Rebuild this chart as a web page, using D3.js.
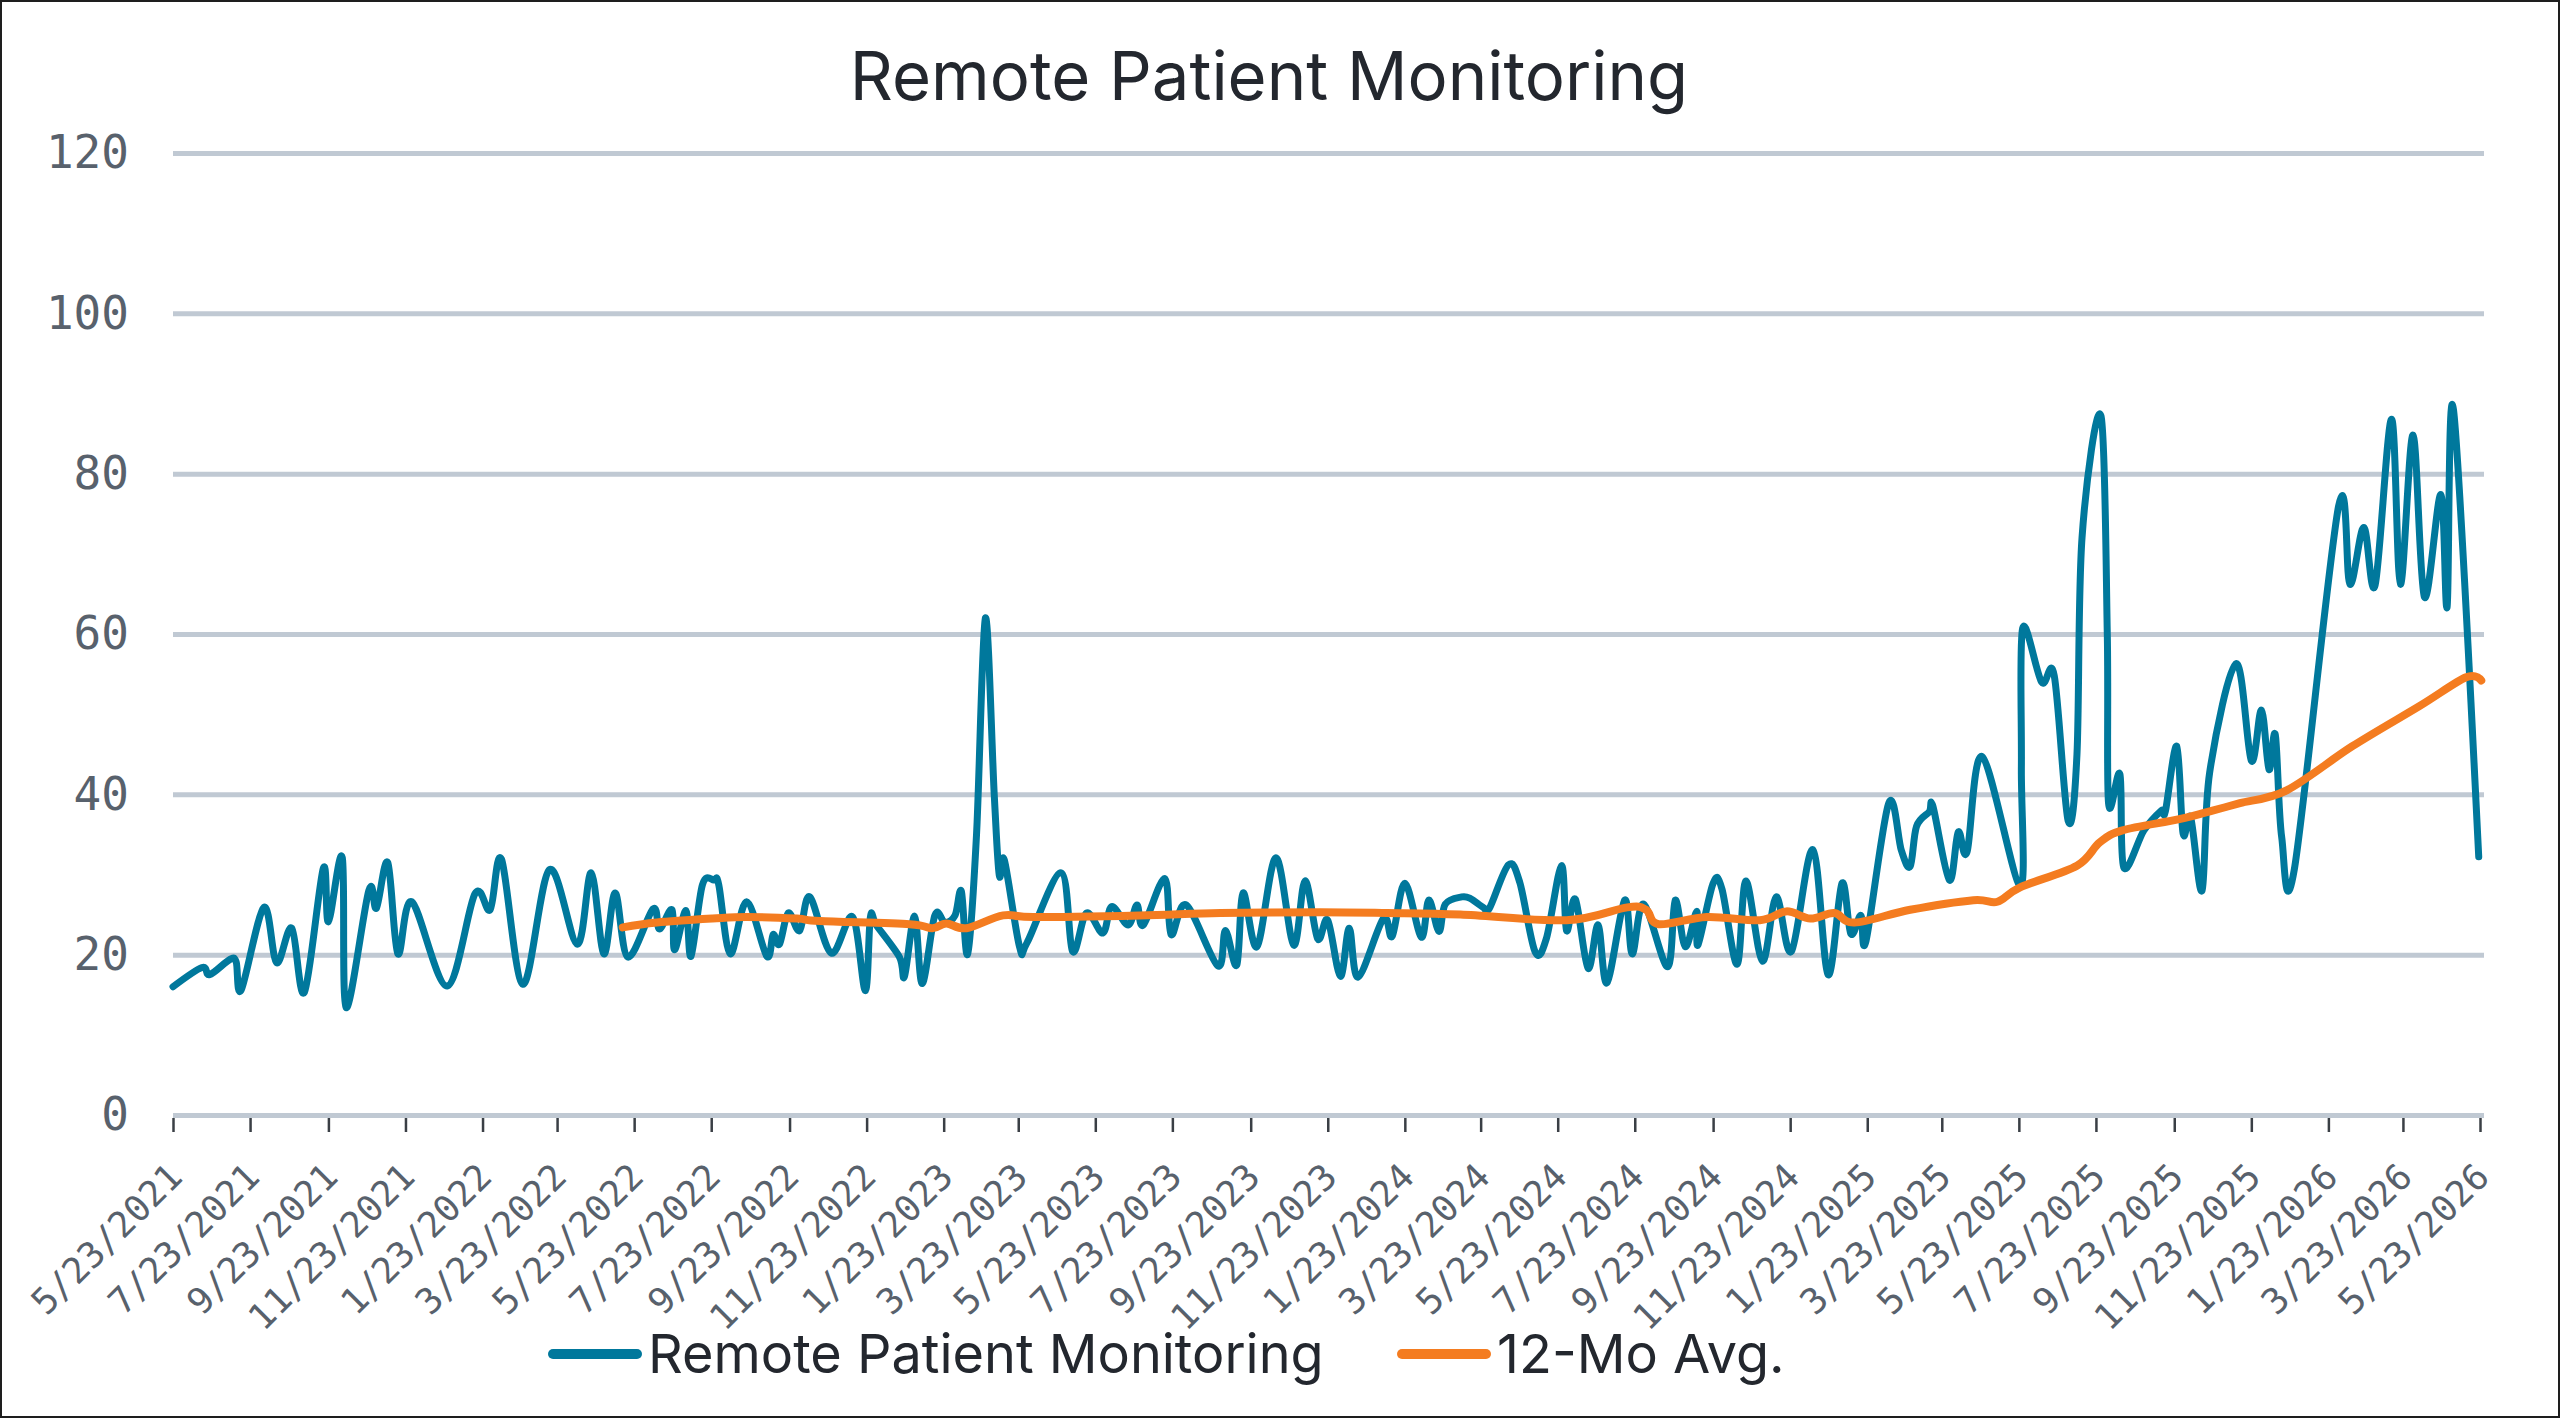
<!DOCTYPE html>
<html><head><meta charset="utf-8">
<script src="https://cdn.jsdelivr.net/npm/d3@7"></script>
<style>html,body{margin:0;padding:0;background:#fff;} svg{display:block;}</style>
</head><body>
<svg id="chart" width="2560" height="1418"></svg>
<script>
const chartTitle = "Remote Patient Monitoring";
const seriesNames = ["Remote Patient Monitoring", "12-Mo Avg."];
const yTicks = [0, 20, 40, 60, 80, 100, 120];
const xTickLabels = ["5/23/2021","7/23/2021","9/23/2021","11/23/2021","1/23/2022","3/23/2022","5/23/2022","7/23/2022","9/23/2022","11/23/2022","1/23/2023","3/23/2023","5/23/2023","7/23/2023","9/23/2023","11/23/2023","1/23/2024","3/23/2024","5/23/2024","7/23/2024","9/23/2024","11/23/2024","1/23/2025","3/23/2025","5/23/2025","7/23/2025","9/23/2025","11/23/2025","1/23/2026","3/23/2026","5/23/2026"];

const rpmDates = ["2021-05-23","2021-06-15","2021-06-21","2021-07-07","2021-07-12","2021-07-16","2021-08-03","2021-08-13","2021-08-25","2021-09-04","2021-09-19","2021-09-23","2021-10-04","2021-10-07","2021-10-25","2021-10-31","2021-11-09","2021-11-17","2021-11-28","2021-12-26",
"2022-01-17","2022-01-29","2022-02-07","2022-02-24","2022-03-17","2022-04-08","2022-04-19","2022-04-29","2022-05-08","2022-05-18","2022-06-07","2022-06-12","2022-06-22","2022-06-24","2022-07-03","2022-07-07","2022-07-16","2022-07-25","2022-07-29","2022-08-07","2022-08-20","2022-09-05","2022-09-10","2022-09-15","2022-09-22","2022-10-01","2022-10-09","2022-10-26","2022-11-12","2022-11-22","2022-11-26","2022-12-01","2022-12-19","2022-12-23","2022-12-31",
"2023-01-06","2023-01-16","2023-01-24","2023-02-01","2023-02-06","2023-02-11","2023-02-18","2023-02-25","2023-03-04","2023-03-08","2023-03-12","2023-03-24","2023-03-30","2023-04-26","2023-05-05","2023-05-16","2023-05-29","2023-06-05","2023-06-18","2023-06-25","2023-06-30","2023-07-17","2023-07-22","2023-08-03","2023-08-28","2023-09-03","2023-09-12","2023-09-17","2023-09-28","2023-10-13","2023-10-27","2023-11-05","2023-11-15","2023-11-23","2023-12-03","2023-12-10","2023-12-17",
"2024-01-06","2024-01-13","2024-01-23","2024-02-05","2024-02-11","2024-02-19","2024-02-24","2024-03-08","2024-03-15","2024-03-25","2024-03-30","2024-04-14","2024-04-23","2024-05-05","2024-05-14","2024-05-26","2024-05-30","2024-06-06","2024-06-16","2024-06-24","2024-07-01","2024-07-15","2024-07-21","2024-07-30","2024-08-18","2024-08-24","2024-09-01","2024-09-10","2024-09-11","2024-09-23","2024-09-30","2024-10-12","2024-10-19","2024-11-01","2024-11-12","2024-11-24","2024-12-11","2024-12-23",
"2025-01-03","2025-01-10","2025-01-18","2025-01-22","2025-02-09","2025-02-19","2025-02-26","2025-03-03","2025-03-13","2025-03-16","2025-03-29","2025-04-05","2025-04-12","2025-04-24","2025-05-24","2025-05-25","2025-05-26","2025-06-10","2025-06-20","2025-07-01","2025-07-08","2025-07-12","2025-07-27","2025-08-01","2025-08-02","2025-08-11","2025-08-14","2025-08-30","2025-09-13","2025-09-16","2025-09-25","2025-09-30","2025-10-06","2025-10-15","2025-10-21","2025-11-11","2025-11-23","2025-12-01","2025-12-07","2025-12-12","2025-12-17","2025-12-27",
"2026-01-31","2026-02-09","2026-02-20","2026-03-01","2026-03-14","2026-03-21","2026-03-31","2026-04-09","2026-04-22","2026-04-27","2026-05-02","2026-05-22"];
const rpmValues = [16.0,18.4,17.5,19.4,19.1,15.6,25.9,19.0,23.3,15.3,30.8,24.1,32.1,13.4,28.0,25.8,31.5,20.1,26.6,16.1,
27.6,25.6,31.9,16.3,30.6,21.3,30.2,20.1,27.7,19.7,25.7,23.2,25.6,20.6,25.5,19.8,28.7,29.3,28.7,20.1,26.6,19.8,22.5,21.3,25.2,23.0,27.2,20.2,24.7,15.5,24.7,23.6,19.7,17.3,24.8,
16.4,24.9,24.0,24.9,27.9,20.1,35.0,62.0,40.0,29.9,31.8,21.0,21.5,30.2,20.4,25.2,22.7,26.0,23.7,26.2,23.7,29.5,22.5,26.2,18.6,23.0,18.7,27.7,21.0,32.1,21.2,29.2,22.0,24.3,17.3,23.3,17.2,
24.5,22.3,28.9,22.2,26.8,22.9,26.3,27.2,27.0,25.9,25.8,31.2,29.0,20.4,22.0,31.1,23.0,26.9,18.3,23.7,16.5,26.8,20.1,26.3,18.5,26.8,21.0,25.4,21.2,28.9,28.2,18.8,29.2,19.2,27.2,20.4,33.1,17.5,
28.9,22.6,24.9,21.7,38.9,33.0,31.0,36.0,37.8,38.5,29.3,35.3,32.8,44.7,28.6,43.5,60.7,54.0,54.8,36.7,45.0,72.0,87.2,60.0,38.9,42.5,30.9,35.5,38.0,37.9,46.0,35.1,37.1,28.0,42.7,56.3,44.2,50.5,43.1,47.4,34.7,30.6,
75.9,66.2,73.3,66.1,86.8,66.2,84.8,64.6,77.4,63.4,88.0,32.2];

const avgDates = ["2022-05-14","2022-06-10","2022-07-24","2022-08-20","2022-09-29","2022-10-17","2022-12-27","2023-01-14","2023-01-25","2023-02-10","2023-03-11","2023-04-04","2023-06-27","2023-08-30","2023-11-17","2024-01-09","2024-03-07","2024-05-30","2024-07-17","2024-08-01","2024-08-11","2024-09-18","2024-10-30","2024-11-20","2024-12-09","2024-12-28","2025-01-13","2025-02-26","2025-04-17","2025-05-06","2025-05-24","2025-07-08","2025-07-26","2025-08-13","2025-09-27","2025-10-24","2025-11-14","2025-12-21","2026-02-11","2026-04-05","2026-05-12","2026-05-24"];
const avgValues = [23.4,24.0,24.5,24.7,24.5,24.2,23.8,23.3,23.9,23.3,24.9,24.7,24.9,25.2,25.3,25.2,25.0,24.3,25.9,25.6,23.8,24.7,24.3,25.4,24.5,25.2,24.0,25.6,26.8,26.6,28.4,31.1,34.0,35.5,36.9,38.0,38.9,40.5,46.0,51.0,54.6,54.2];

const colors = ["#00789c", "#f47c20"];
const W = 2560, H = 1418;
const plot = {left: 173, right: 2480, top: 153, bottom: 1115, gridRight: 2484};

const parseISO = d3.utcParse("%Y-%m-%d");
const parseLabel = d3.utcParse("%m/%d/%Y");
const tickDates = xTickLabels.map(parseLabel);

const x = d3.scaleUtc().domain([tickDates[0], tickDates[tickDates.length - 1]]).range([plot.left, plot.right]);
const y = d3.scaleLinear().domain([0, 120]).range([plot.bottom, plot.top]);

const svg = d3.select("#chart");
svg.append("rect").attr("x", 0).attr("y", 0).attr("width", W).attr("height", H).attr("fill", "#fff");
svg.append("rect").attr("x", 1).attr("y", 1).attr("width", W - 2).attr("height", H - 2)
  .attr("fill", "none").attr("stroke", "#1e1e1e").attr("stroke-width", 2);

svg.append("text").attr("x", 1269).attr("y", 100).attr("text-anchor", "middle")
  .attr("font-family", "Inter, 'Noto Sans', sans-serif").attr("font-size", 67)
  .attr("fill", "#23272e").text(chartTitle);

// Y axis with gridlines
const yAxis = d3.axisLeft(y).tickValues(yTicks).tickSize(-(plot.gridRight - plot.left)).tickPadding(44).tickFormat(d3.format("d"));
const gy = svg.append("g").attr("transform", `translate(${plot.left},0)`).call(yAxis);
gy.select(".domain").remove();
gy.selectAll(".tick line").attr("stroke", "#c0c9d3").attr("stroke-width", 5);
gy.selectAll(".tick text").attr("font-family", "'DejaVu Sans Mono', monospace").attr("font-size", 46).attr("fill", "#58616c");

// X axis
const xAxis = d3.axisBottom(x).tickValues(tickDates).tickSize(14).tickFormat((d, i) => xTickLabels[i]);
const gx = svg.append("g").attr("transform", `translate(0,${plot.bottom + 3})`).call(xAxis);
gx.select(".domain").remove();
gx.selectAll(".tick line").attr("stroke", "#3a3f45").attr("stroke-width", 2.5);
gx.selectAll(".tick text")
  .attr("font-family", "'DejaVu Sans Mono', monospace").attr("font-size", 36).attr("fill", "#58616c")
  .attr("text-anchor", "end").attr("x", 0).attr("y", 0).attr("dy", "0.35em")
  .attr("transform", "translate(2,52) rotate(-45)");

// Lines
const line = d3.line().x(d => x(d.date)).y(d => y(d.value)).curve(d3.curveCardinal.tension(0));
const rpm = rpmDates.map((d, i) => ({date: parseISO(d), value: rpmValues[i]}));
const avg = avgDates.map((d, i) => ({date: parseISO(d), value: avgValues[i]}));

svg.append("path").datum(rpm).attr("d", line).attr("fill", "none").attr("stroke", colors[0])
  .attr("stroke-width", 7).attr("stroke-linejoin", "round").attr("stroke-linecap", "round");
svg.append("path").datum(avg).attr("d", line).attr("fill", "none").attr("stroke", colors[1])
  .attr("stroke-width", 8).attr("stroke-linejoin", "round").attr("stroke-linecap", "round");

// Legend
const legendItems = [{x: 553, name: seriesNames[0], color: colors[0]}, {x: 1402, name: seriesNames[1], color: colors[1]}];
const lg = svg.append("g");
legendItems.forEach(it => {
  lg.append("line").attr("x1", it.x).attr("x2", it.x + 84).attr("y1", 1354).attr("y2", 1354)
    .attr("stroke", it.color).attr("stroke-width", 10).attr("stroke-linecap", "round");
  lg.append("text").attr("x", it.x + 95).attr("y", 1354).attr("dy", "0.36em")
    .attr("font-family", "Inter, 'Noto Sans', sans-serif").attr("font-size", 54).attr("fill", "#23272e").text(it.name);
});
</script>
</body></html>
